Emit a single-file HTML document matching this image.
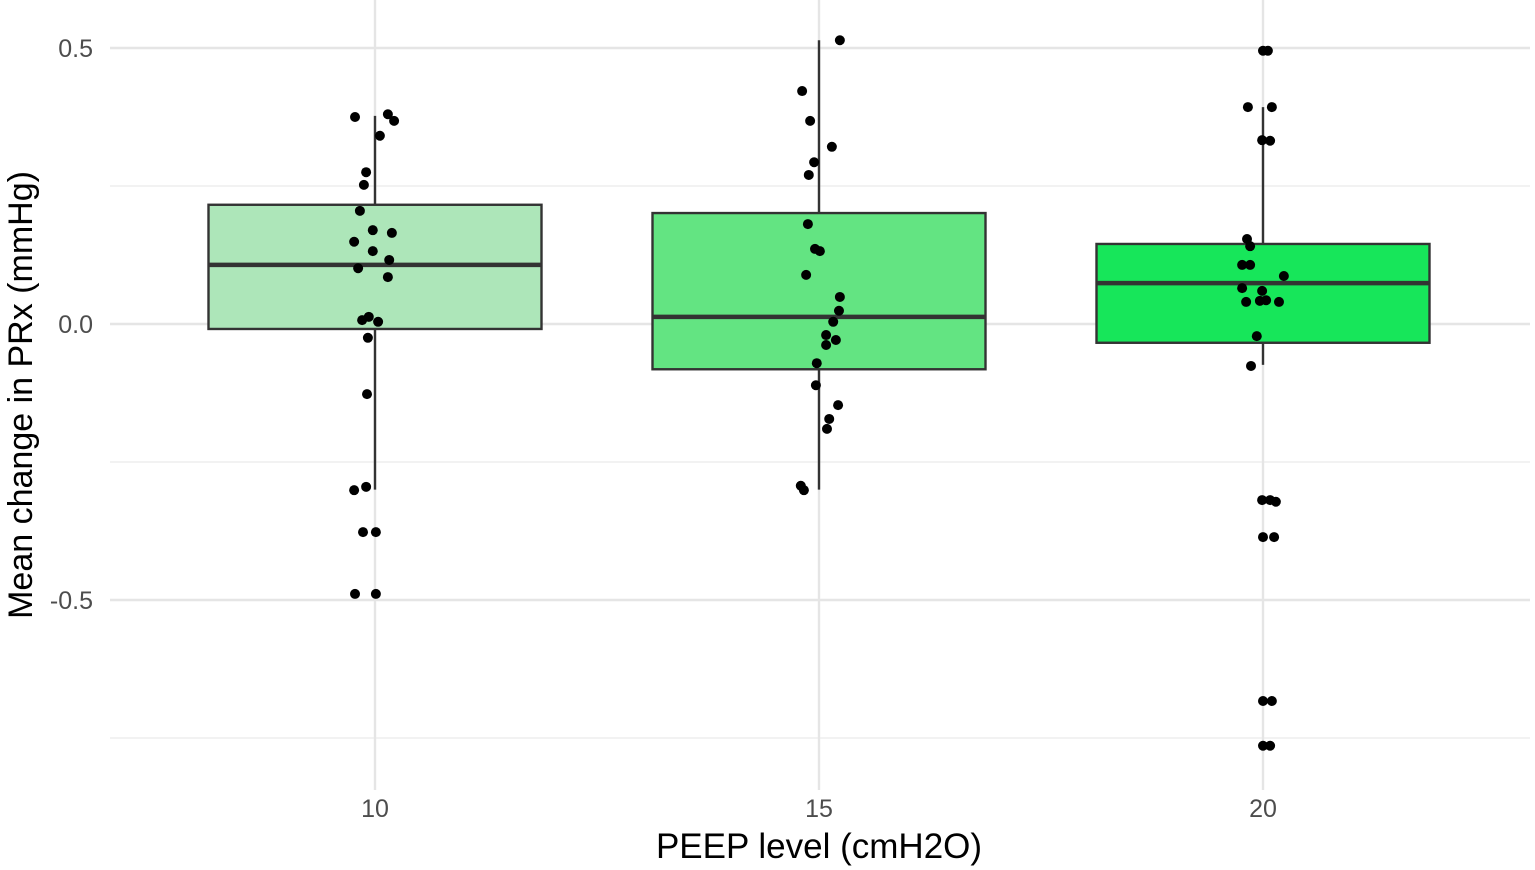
<!DOCTYPE html>
<html><head><meta charset="utf-8"><style>
html,body{margin:0;padding:0;background:#fff;}
svg{display:block;font-family:"Liberation Sans",Arial,sans-serif;}
</style></head><body>
<svg id="chart" width="1535" height="870"></svg>
<script>
const categories=["10","15","20"];
const q1=[-0.009,-0.082,-0.034];
const medians=[0.107,0.013,0.074];
const q3=[0.216,0.201,0.145];
const whiskerLow=[-0.30,-0.30,-0.074];
const whiskerHigh=[0.377,0.514,0.393];
const boxColors=["#ade6b9","#63e482","#17e65a"];
const yTicks=[0.5,0.0,-0.5];
const yTickLabels=["0.5","0.0","-0.5"];
const yMinor=[0.25,-0.25,-0.75];
const pts10=[0.375,0.380,0.368,0.341,0.275,0.252,0.205,0.165,0.149,0.170,0.132,0.116,0.101,0.085,0.007,0.013,0.004,-0.025,-0.127,-0.301,-0.295,-0.377,-0.377,-0.489,-0.489];
const jit10=[-0.045,0.029,0.043,0.011,-0.020,-0.025,-0.034,0.038,-0.047,-0.005,-0.005,0.032,-0.038,0.029,-0.029,-0.014,0.007,-0.016,-0.018,-0.047,-0.020,-0.027,0.002,-0.045,0.002];
const pts15=[0.514,0.422,0.368,0.321,0.293,0.270,0.181,0.136,0.132,0.089,0.049,0.024,0.004,-0.020,-0.029,-0.038,-0.071,-0.111,-0.147,-0.172,-0.190,-0.293,-0.301];
const jit15=[0.047,-0.038,-0.020,0.029,-0.011,-0.023,-0.025,-0.009,0.002,-0.029,0.047,0.045,0.032,0.016,0.038,0.016,-0.005,-0.007,0.043,0.023,0.018,-0.041,-0.034];
const pts20=[0.495,0.495,0.393,0.393,0.333,0.332,0.154,0.141,0.107,0.107,0.087,0.065,0.060,0.040,0.042,0.043,0.040,-0.022,-0.076,-0.319,-0.319,-0.322,-0.386,-0.386,-0.683,-0.683,-0.764,-0.764];
const jit20=[0,0.011,-0.034,0.020,-0.002,0.016,-0.036,-0.029,-0.047,-0.029,0.047,-0.047,-0.002,-0.038,-0.007,0.007,0.036,-0.014,-0.027,-0.002,0.016,0.029,0,0.025,0,0.020,0,0.016];

const NS="http://www.w3.org/2000/svg";
const svg=document.getElementById('chart');
const L=110,R=1530;
function y(v){return 324-v*552;}
function x(i){return 375+i*444;}
function mk(t,a,p){const e=document.createElementNS(NS,t);for(const k in a)e.setAttribute(k,a[k]);(p||svg).appendChild(e);return e;}

yMinor.forEach(v=>{const l=mk('line',{x1:L,x2:R,y1:y(v),y2:y(v),stroke:'#ebebeb','stroke-width':1.2});

});
yTicks.forEach((v,i)=>{const l=mk('line',{x1:L,x2:R,y1:y(v),y2:y(v),stroke:'#e5e5e5','stroke-width':2.4});


const t=mk('text',{x:93,y:y(v)+9,'text-anchor':'end','font-size':25,fill:'#4d4d4d'});
t.textContent=yTickLabels[i];

});
categories.forEach((c,i)=>{const l=mk('line',{x1:x(i),x2:x(i),y1:0,y2:790,stroke:'#e5e5e5','stroke-width':2.4});


const t=mk('text',{x:x(i),y:817,'text-anchor':'middle','font-size':25,fill:'#4d4d4d'});
t.textContent=c;

});

const hw=0.375*444;
categories.forEach((c,i)=>{
const g=mk('g',{});


mk('line',{x1:x(i),x2:x(i),y1:y(whiskerHigh[i]),y2:y(q3[i]),stroke:'#333','stroke-width':2.4},g);
mk('line',{x1:x(i),x2:x(i),y1:y(q1[i]),y2:y(whiskerLow[i]),stroke:'#333','stroke-width':2.4},g);
mk('rect',{x:x(i)-hw,y:y(q3[i]),width:2*hw,height:y(q1[i])-y(q3[i]),fill:boxColors[i],stroke:'#333','stroke-width':2.4},g);
mk('line',{x1:x(i)-hw,x2:x(i)+hw,y1:y(medians[i]),y2:y(medians[i]),stroke:'#333','stroke-width':4.5},g);
});
[[pts10,jit10],[pts15,jit15],[pts20,jit20]].forEach(([p,j],i)=>{
p.forEach((v,k)=>{const c=mk('circle',{cx:x(i+j[k]),cy:y(v),r:5,fill:'#000'});

});
});
const xt=mk('text',{x:819,y:858,'text-anchor':'middle','font-size':35,fill:'#000'});
xt.textContent='PEEP level (cmH2O)';


const yt=mk('text',{x:0,y:0,'text-anchor':'middle','font-size':34,fill:'#000',transform:'translate(32,395) rotate(-90)'});
yt.textContent='Mean change in PRx (mmHg)';


</script>
</body></html>
